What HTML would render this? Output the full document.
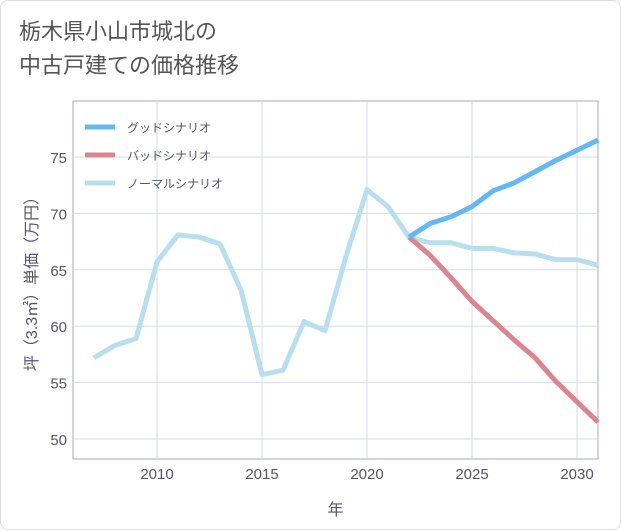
<!DOCTYPE html>
<html><head><meta charset="utf-8"><style>
body{margin:0;background:#fff;font-family:"Liberation Sans","Noto Sans CJK JP",sans-serif;}
#card{position:absolute;left:0;top:0;width:619px;height:528px;border:1px solid #ddd;border-radius:8px;background:#fff;}
#title{position:absolute;left:18px;top:14px;font-size:22px;line-height:34px;color:#555;font-family:"Liberation Sans","Noto Sans CJK JP",sans-serif;}
</style></head><body>
<div id="card">
<div id="title">栃木県小山市城北の<br>中古戸建ての価格推移</div>
<svg id="chart" width="621" height="530" style="position:absolute;left:0;top:0"></svg>
</div>
<script>
const years=[2007,2008,2009,2010,2011,2012,2013,2014,2015,2016,2017,2018,2019,2020,2021,2022,2023,2024,2025,2026,2027,2028,2029,2030,2031];
const normalVals=[57.2,58.3,58.9,65.7,68.1,67.9,67.3,63.2,55.7,56.1,60.4,59.6,66.2,72.1,70.6,67.9,67.4,67.4,66.9,66.9,66.5,66.4,65.9,65.9,65.4];
const futureYears=[2022,2023,2024,2025,2026,2027,2028,2029,2030,2031];
const goodVals=[67.9,69.1,69.7,70.6,72.0,72.7,73.7,74.7,75.6,76.5];
const badVals=[67.9,66.3,64.3,62.2,60.5,58.8,57.2,55.1,53.3,51.5];
const xTicks=[2010,2015,2020,2025,2030];
const yTicks=[50,55,60,65,70,75];
const legendLabels=["グッドシナリオ","バッドシナリオ","ノーマルシナリオ"];
const colors=["#64b9f2","#d9868e","#b9dfef"];
const L=72,R=597,T=100,B=458;
const x=v=>L+(v-2006)*(R-L)/25;
const y=v=>438-(v-50)*11.28;
const svg=document.getElementById('chart');
const NS="http://www.w3.org/2000/svg";
function mk(t,a){const e=document.createElementNS(NS,t);for(const k in a)e.setAttribute(k,a[k]);svg.appendChild(e);return e;}
let f=mk('rect',{x:L,y:T,width:R-L,height:B-T,fill:'none',stroke:'#aab',"stroke-width":1});


xTicks.forEach(t=>{
 let g=mk('line',{x1:x(t),x2:x(t),y1:T,y2:B,stroke:'#d5dde5'});
 
 
 let s=mk('text',{x:x(t),y:B+20,"text-anchor":"middle","font-size":15,fill:"#556"});s.textContent=t;
 
 
});
yTicks.forEach(t=>{
 let g=mk('line',{x1:L,x2:R,y1:y(t),y2:y(t),stroke:'#d5dde5'});
 
 
 let s=mk('text',{x:L-6,y:y(t)+6,"text-anchor":"end","font-size":15,fill:"#556"});s.textContent=t;
 
 
});
let xt=mk('text',{x:(L+R)/2,y:514,"text-anchor":"middle","font-size":16,fill:"#556"});xt.textContent="年";


let yt=mk('text',{x:0,y:0,"text-anchor":"middle","font-size":16,fill:"#556",transform:`translate(36,${(T+B)/2}) rotate(-90)`});yt.textContent="坪（3.3㎡）単価（万円）";


function line(xs,vs,c,name){
 let p=mk('polyline',{points:xs.map((v,i)=>x(v)+','+y(vs[i])).join(' '),fill:'none',stroke:c,"stroke-width":5,"stroke-linejoin":"round"});
 
 
}
line(years,normalVals,colors[2],'normal-scenario-line');
line(futureYears,badVals,colors[1],'bad-scenario-line');
line(futureYears,goodVals,colors[0],'good-scenario-line');
legendLabels.forEach((lab,i)=>{
 let ly=126+i*28;
 let l=mk('line',{x1:84,x2:114,y1:ly,y2:ly,stroke:colors[i],"stroke-width":5});
 
 
 let s=mk('text',{x:126,y:ly+5,"font-size":12,fill:"#556"});s.textContent=lab;
 
 
});
</script>
</body></html>
